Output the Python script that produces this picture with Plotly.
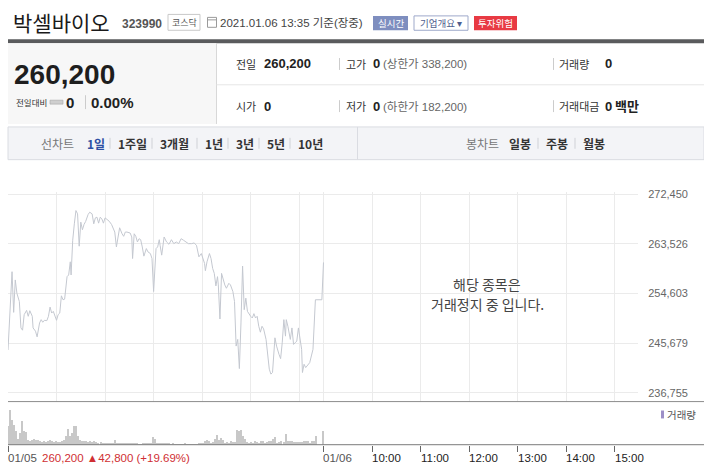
import plotly.graph_objects as go
import numpy as np

W, H = 704, 470
def X(px): return px / W
def Y(py): return 1 - py / H

# ---------------- data ----------------
# minutes after 09:00 on 01/05 (previous session) and traded price
price_minutes = [0,5,7,9,11,14,16,18,20,23,25,27,30,31,34,36,39,41,43,45,48,50,52,54,56,58,60,62,64,66,
                 68,70,73,75,77,78,80,82,84,86,88,90,92,94,96,99,101,104,106,108,110,112,114,116,118,120,122,125,128,130,
                 132,134,136,138,141,143,145,147,151,153,154,156,158,160,162,164,166,168,171,173,176,178,180,183,185,187,
                 188,190,193,196,199,202,205,208,211,214,217,220,223,227,230,233,236,239,241,243,
                 244,246,249,251,253,255,257,259,260,262,264,266,268,270,273,275,278,280,282,284,
                 286,288,290,292,294,296,298,300,302,304,306,308,310,312,314,316,319,321,323,325,
                 327,330,332,335,337,339,341,343,344,346,349,351,353,355,357,359,361,363,364,366,
                 368,371,373,375,377,380,382,386,388,390]
prices = [244430,258530,251210,257050,254650,253170,248410,248000,250800,251570,
          250500,251510,250500,248410,247820,246800,249300,249900,249430,249780,
          249720,250500,252160,251090,251390,250500,249780,250800,251090,254190,
          253480,253590,257640,257940,260310,257940,264190,267150,269540,268940,
          263120,267450,266080,267040,267580,268820,269240,268940,267150,268220,
          268340,267270,268340,268040,267270,268220,268040,267630,267040,266260,
          265670,262990,264900,266440,265360,264900,265670,265670,265490,264780,
          260900,265360,264900,263880,264470,264290,262990,261330,262690,262100,
          261800,260900,254960,262690,262990,264290,
          263290,261510,264780,263880,263470,264290,263580,263880,263580,264470,
          264190,263880,263580,263580,263710,263290,261210,261800,260900,260010,
          258710,260310,261800,260900,259120,258230,255970,257640,256150,250020,
          258230,257160,256150,255550,256440,256150,254960,253170,245140,246340,
          241090,249300,259550,251690,253770,251390,250800,250500,250200,250980,
          250200,250500,248710,247640,248710,248230,246340,243950,240980,240090,
          240380,246630,245140,243660,242880,245730,249900,246930,249900,248710,
          246340,248410,245450,245730,246040,248410,246040,244550,240380,241870,
          241270,241870,242160,243360,244550,253480,253480,253480,253480,260200]

# volume (thousand shares) per interval, 01/05 session
vol_values = [19,35.7,25.7,20.7,14,6.3,12.3,24,14,13, 5.7,4,5.7,6.3,5.7,5,4,3,4,3,
              4,5.7,3.7,3,3.7,3,3,4,5.7,9, 16.3,9,12.3,19,19,9,5,4,3.7,4.3,
              3,3.7,3,3.7,3,2.3,3,1.7,2.3,2.3, 2.3,2.3,2.3,5.7,2.3,2.3,2.3,1.7,1.7,1.7,
              1.7,1.7,2.3,2.3,1.7,1.3,1.3,2.3,2.3,1.7, 1.7,2.3,8.3,6.3,2.3,1.7,1.7,2.3,1.7,1.7,
              1.7,1.3,1.7,1.3,1.3,1.3,1.3,1.3,1.7,1.3, 1.3,1.3,1.3,1.3,1.3,1.7,2.3,2.3,4,5.7,
              3.7,2.3,3,6.3,10.3,5,7.7,5.7,2.3,3, 2.3,3.7,3,3,15.7,14,15,9,6.3,3,
              2.3,3,2.3,3.7,3,2.3,3.7,4.3,2.3,3, 4.3,4,6.3,8.3,2.3,3,4,3,11,4,
              4.3,4,3,3,3,3,3.3,4.3,4.3,4.7, 2.3,3.7,4.3,9.7]
vol_interval_min = 2.486
close_auction_minute = 390
close_auction_volume = 14.7

y_ticks = [236755, 245679, 254603, 263526, 272450]
y_labels = ["236,755", "245,679", "254,603", "263,526", "272,450"]
grid_hours = [0, 1, 2, 3, 4, 5, 6, 6.5, 7.5, 8.5, 9.5, 10.5, 11.5, 12.5]
time_tick_hours = [0, 6.5, 7.5, 8.5, 9.5, 10.5, 11.5, 12.5]
time_tick_labels = ["01/05", "01/06", "10:00", "11:00", "12:00", "13:00", "14:00", "15:00"]

# ---------------- figure ----------------
KR = "Noto Sans CJK KR"
LAT = "Liberation Sans, Arial, Noto Sans CJK KR, sans-serif"

px_hours = [m / 60 for m in price_minutes]
vol_minutes = list(np.arange(len(vol_values)) * vol_interval_min) + [close_auction_minute]
vol_hours = [m / 60 for m in vol_minutes]
vols = vol_values + [close_auction_volume]

fig = go.Figure()
fig.add_trace(go.Scatter(x=px_hours, y=prices, mode="lines",
                         line=dict(color="#c4c8d0", width=1), hoverinfo="skip",
                         xaxis="x", yaxis="y"))
fig.add_trace(go.Bar(x=vol_hours, y=vols, width=0.021,
                     marker=dict(color="#c8c8c8", line=dict(width=0)),
                     hoverinfo="skip", xaxis="x2", yaxis="y2"))

x_rng = [0, 12.98]
y_bottom = 236755 - (401 - 392) * (272450 - 236755) / 200
y_top = 272450 + 2 * (272450 - 236755) / 200

shapes = []
def rect(x0, y0, x1, y1, fill=None, line=None, lw=1):
    shapes.append(dict(type="rect", xref="paper", yref="paper",
                       x0=X(x0), x1=X(x1), y0=Y(y1), y1=Y(y0),
                       fillcolor=fill if fill else "rgba(0,0,0,0)",
                       line=dict(color=line if line else "rgba(0,0,0,0)", width=lw if line else 0),
                       layer="below"))
def hline(x0, x1, y, color, w=1):
    shapes.append(dict(type="line", xref="paper", yref="paper", x0=X(x0), x1=X(x1),
                       y0=Y(y), y1=Y(y), line=dict(color=color, width=w)))
def vline(x, y0, y1, color, w=1):
    shapes.append(dict(type="line", xref="paper", yref="paper", x0=X(x), x1=X(x),
                       y0=Y(y0), y1=Y(y1), line=dict(color=color, width=w)))

ann = []
def text(px, py, s, size=12, color="#333", family=KR, anchor="left"):
    ann.append(dict(x=X(px), y=Y(py), xref="paper", yref="paper", text=s, showarrow=False,
                    xanchor=anchor, yanchor="middle", borderpad=0,
                    font=dict(family=family, size=size, color=color)))

# header
text(12, 18, "박셀바이오", 21, "#1a1a1a", KR)
text(121, 20, "<b>323990</b>", 12, "#555", LAT)
rect(168, 10.5, 200, 26.5, fill="white", line="#c9c9c9")
text(184, 18.5, "코스닥", 9, "#555", KR, "center")
rect(207.5, 13.5, 216.5, 23.5, line="#9a9a9a")
hline(207.5, 216.5, 16, "#9a9a9a")
text(219, 19, "2021.01.06 13:35 기준(장중)", 11.5, "#444", LAT)
rect(373, 12, 408, 26.5, fill="#7e8ebf")
text(390.5, 19.5, "실시간", 9.5, "white", KR, "center")
rect(414, 12, 468, 26.5, fill="white", line="#9ea9ca")
text(441, 19.5, "기업개요 ▾", 9.5, "#4f5e8e", KR, "center")
rect(474, 12, 517, 26.5, fill="#e83a43")
text(495.5, 19.5, "투자위험", 9.5, "white", KR, "center")
rect(8, 35.5, 704, 39.5, fill="#5a5b5d")

# info panel
rect(8, 39.5, 216, 121, fill="#f7f7f7")
vline(216.5, 39.5, 121, "#d8d8d8")
hline(216.5, 704, 81.5, "#e6e6e6")
text(13, 71, "<b>260,200</b>", 28, "#1e1e1e", LAT)
text(15, 99, "전일대비", 8.5, "#333", KR)
rect(50, 97, 63, 101, fill="#cfcfcf", line="#a8a8a8", lw=0.6)
text(65, 99, "<b>0</b>", 15, "#222", LAT)
vline(85.5, 92, 106, "#cccccc")
text(90, 99, "<b>0.00%</b>", 15, "#222", LAT)

rows = [(60.5, [("전일", 235), ("<b>260,200</b>", 263)], [("고가", 345), ("<b>0</b>", 372), ("(상한가 338,200)", 382)],
         [("거래량", 558), ("<b>0</b>", 604)]),
        (103, [("시가", 235), ("<b>0</b>", 263)], [("저가", 345), ("<b>0</b>", 372), ("(하한가 182,200)", 382)],
         [("거래대금", 558), ("<b>0</b>", 604), ("<b>백만</b>", 614)])]
for py, g1, g2, g3 in rows:
    for grp in (g1, g2, g3):
        for s, x in grp:
            if s.startswith("("):
                text(x, py, s, 11.5, "#666", LAT)
            elif s.startswith("<b>"):
                text(x, py, s, 13, "#222", LAT)
            else:
                text(x, py, s, 11, "#333", KR)
    vline(339.5, py - 6, py + 6, "#cccccc")
    vline(553.5, py - 6, py + 6, "#cccccc")

# tab bar
rect(8, 124, 704, 157, fill="#f3f4f7", line="#dadce2")
vline(357.5, 124, 157, "#dadce2")
text(40, 140.5, "선차트", 12, "#777", KR)
text(86, 140.5, "<b>1일</b>", 12, "#2d4fa3", KR)
tabs1 = [("1주일", 117), ("3개월", 159), ("1년", 204), ("3년", 235), ("5년", 266), ("10년", 297)]
for s, x in tabs1:
    vline(x - 7, 135, 146, "#cfd1d6")
    text(x, 140.5, "<b>" + s + "</b>", 12, "#333", KR)
text(465, 140.5, "봉차트", 12, "#777", KR)
tabs2 = [("일봉", 508), ("주봉", 545), ("월봉", 582)]
for i, (s, x) in enumerate(tabs2):
    if i > 0:
        vline(x - 7, 135, 146, "#cfd1d6")
    text(x, 140.5, "<b>" + s + "</b>", 12, "#333", KR)

# chart frame lines
hline(8, 704, 401, "#8c8c8c")
hline(8, 704, 444.5, "#7a7a7a")

# halted message
text(487, 282, "해당 종목은", 14, "#444", KR, "center")
text(487, 302.5, "거래정지 중 입니다.", 14, "#444", KR, "center")

# volume legend
rect(661, 410, 664, 418, fill="#9d8fc7")
text(666, 414, "거래량", 10.5, "#555", KR)

# bottom time labels
for h, lab in zip(time_tick_hours, time_tick_labels):
    ann.append(dict(x=h, y=Y(457.5), xref="x2", yref="paper", text=lab, showarrow=False,
                    xanchor="left", yanchor="middle", borderpad=0, xshift=-1,
                    font=dict(family=LAT, size=11.5, color="#555" if "/" in lab else "#222")))
text(41, 457.5, "260,200 ▲42,800 (+19.69%)", 11.5, "#d02f33", LAT)

fig.update_layout(
    width=W, height=H, margin=dict(l=0, r=0, t=0, b=0),
    paper_bgcolor="white", plot_bgcolor="rgba(0,0,0,0)",
    showlegend=False, bargap=0,
    shapes=shapes, annotations=ann,
    xaxis=dict(domain=[X(8), X(638)], range=x_rng, anchor="y",
               tickmode="array", tickvals=grid_hours, showticklabels=False,
               showgrid=True, gridcolor="#ebebeb", gridwidth=1, zeroline=False,
               showline=False, ticks="", fixedrange=True),
    yaxis=dict(domain=[Y(401), Y(190)], range=[y_bottom, y_top], anchor="x", side="right",
               tickmode="array", tickvals=y_ticks, ticktext=y_labels,
               tickfont=dict(family=LAT, size=11, color="#666"),
               ticks="outside", ticklen=7, tickcolor="rgba(0,0,0,0)",
               showgrid=True, gridcolor="#ebebeb", gridwidth=1, zeroline=False,
               showline=False, fixedrange=True),
    xaxis2=dict(domain=[X(8), X(638)], range=x_rng, anchor="y2", matches="x",
                tickmode="array", tickvals=time_tick_hours, showticklabels=False,
                ticks="outside", ticklen=6, tickcolor="#666", tickwidth=1,
                showgrid=False, zeroline=False, showline=False, fixedrange=True),
    yaxis2=dict(domain=[Y(444.5), Y(404)], range=[0, 40.5], anchor="x2",
                visible=False, fixedrange=True),
)

fig.write_html("out.html")
